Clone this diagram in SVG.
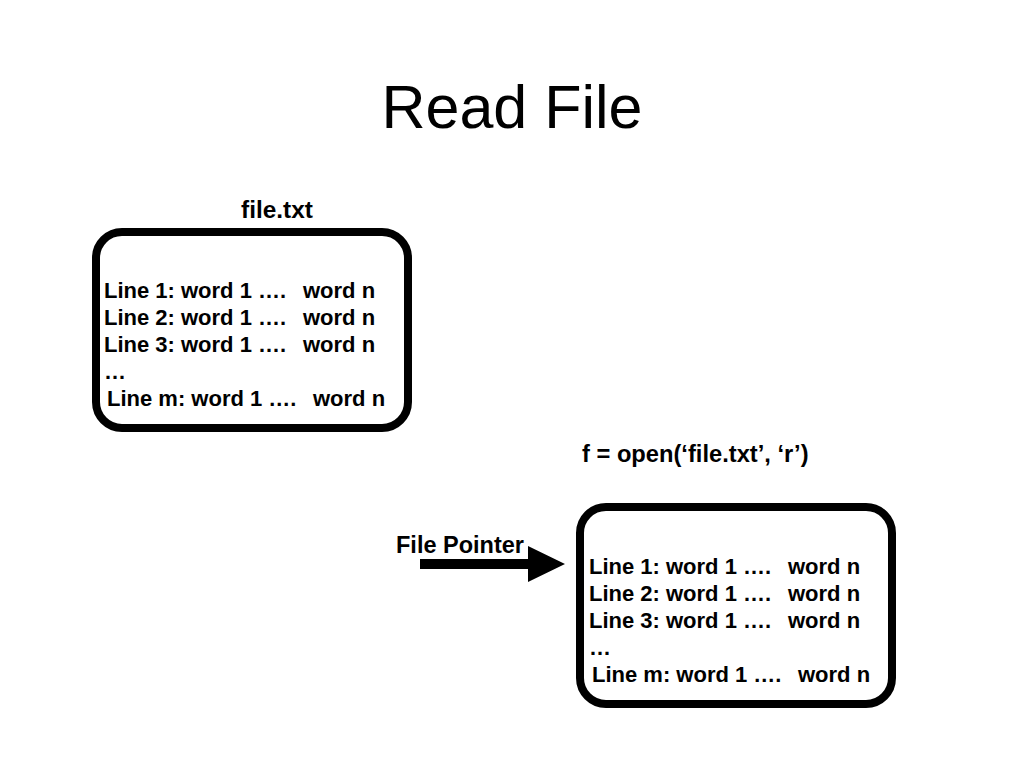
<svg xmlns="http://www.w3.org/2000/svg" width="1024" height="768" viewBox="0 0 1024 768">
<style>
.box{fill:#fff;stroke:#000;stroke-width:8}
.t{font-family:"Liberation Sans",Arial,sans-serif;font-weight:bold;font-size:22px;fill:#000}
.title{font-family:"Liberation Sans",Arial,sans-serif;font-size:61px;fill:#000}
</style>
<rect width="1024" height="768" fill="#fff"/>
<text class="title" x="512" y="128" text-anchor="middle">Read File</text>
<g id="file-label"><text class="t" x="277" y="218" text-anchor="middle" style="font-size:24.4px">file.txt</text></g>
<g id="file-box">
<rect class="box" x="96" y="232" width="312" height="196" rx="26"/>
<text class="t" x="104" y="298">Line 1: word 1 ….</text><text class="t" x="303" y="298">word n</text>
<text class="t" x="104" y="325">Line 2: word 1 ….</text><text class="t" x="303" y="325">word n</text>
<text class="t" x="104" y="352">Line 3: word 1 ….</text><text class="t" x="303" y="352">word n</text>
<text class="t" x="104" y="379">…</text>
<text class="t" x="107" y="406">Line m: word 1 ….</text><text class="t" x="313" y="406">word n</text>
</g>
<g id="open-label"><text class="t" x="582" y="462" style="font-size:23.7px">f = open(‘file.txt’, ‘r’)</text></g>
<g id="pointer-label"><text class="t" x="396" y="553" style="font-size:23.5px">File Pointer</text></g>
<g id="opened-box">
<rect class="box" x="580" y="507" width="312" height="197" rx="26"/>
<text class="t" x="589" y="574">Line 1: word 1 ….</text><text class="t" x="788" y="574">word n</text>
<text class="t" x="589" y="601">Line 2: word 1 ….</text><text class="t" x="788" y="601">word n</text>
<text class="t" x="589" y="628">Line 3: word 1 ….</text><text class="t" x="788" y="628">word n</text>
<text class="t" x="589" y="655">…</text>
<text class="t" x="592" y="682">Line m: word 1 ….</text><text class="t" x="798" y="682">word n</text>
</g>
<g id="connectors">
<polygon points="420,559 528,559 528,546 565,564 528,582 528,569 420,569" fill="#000"/>
</g>
</svg>
